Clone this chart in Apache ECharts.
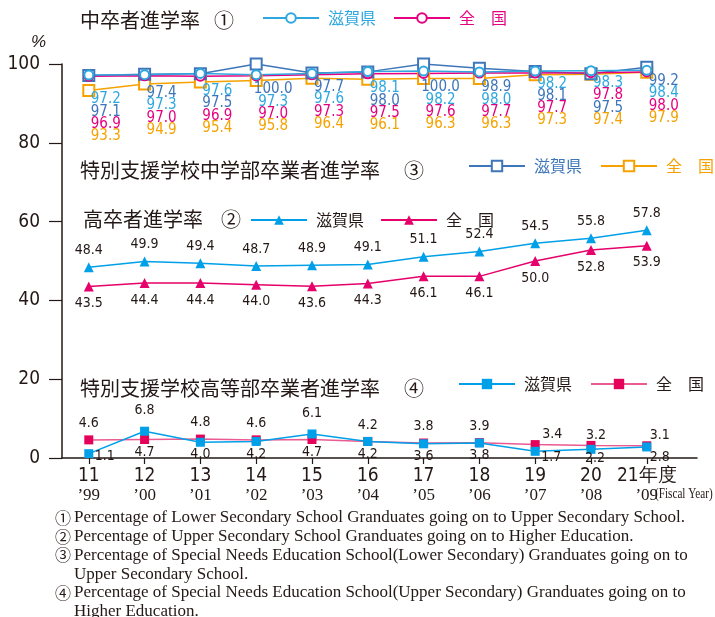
<!DOCTYPE html>
<html><head><meta charset="utf-8">
<script src="https://cdn.jsdelivr.net/npm/echarts@6/dist/echarts.min.js"></script>
<style>html,body{margin:0;padding:0;background:#fff}#c{width:715px;height:617px}</style>
</head><body><div id="c"></div>
<script>
// ---------- data ----------
const years = [11, 12, 13, 14, 15, 16, 17, 18, 19, 20, 21];
const westernYears = ['99', '00', '01', '02', '03', '04', '05', '06', '07', '08', '09'];
const yTicks = [0, 20, 40, 60, 80, 100];
// ① 中卒者進学率
const lowerSecShiga    = [97.2, 97.3, 97.6, 97.3, 97.6, 98.1, 98.2, 98.0, 98.2, 98.3, 98.4];
const lowerSecNational = [96.9, 97.0, 96.9, 97.0, 97.3, 97.5, 97.6, 97.7, 97.7, 97.8, 98.0];
// ③ 特別支援学校中学部卒業者進学率
const specLowerShiga    = [97.1, 97.4, 97.5, 100.0, 97.7, 98.0, 100.0, 98.9, 98.1, 97.5, 99.2];
const specLowerNational = [93.3, 94.9, 95.4, 95.8, 96.4, 96.1, 96.3, 96.3, 97.3, 97.4, 97.9];
// ② 高卒者進学率
const upperSecShiga    = [48.4, 49.9, 49.4, 48.7, 48.9, 49.1, 51.1, 52.4, 54.5, 55.8, 57.8];
const upperSecNational = [43.5, 44.4, 44.4, 44.0, 43.6, 44.3, 46.1, 46.1, 50.0, 52.8, 53.9];
// ④ 特別支援学校高等部卒業者進学率
const specUpperShiga    = [1.1, 6.8, 4.0, 4.2, 6.1, 4.2, 3.6, 3.8, 1.7, 2.2, 2.8];
const specUpperNational = [4.6, 4.7, 4.8, 4.6, 4.7, 4.2, 3.8, 3.9, 3.4, 3.2, 3.1];

// ---------- styling ----------
const NARROW = "'Liberation Sans Narrow','DejaVu Sans Condensed','Liberation Sans',sans-serif";
const CJK = "'Noto Sans CJK JP','Noto Sans',sans-serif";
const SERIF = "'Liberation Serif','DejaVu Serif',serif";
const INK = '#231815';
const C = {
  lbShiga: '#2ea7e0', lbNat: '#e4007f',
  dbShiga: '#3e76b9', orNat: '#f5a200',
  cyan: '#00a0e9', crimson: '#e5006a', red: '#e5005a', redLine: '#ea5b91'
};
// per-point label nudges for ④ (layout only)
const shigaUpperNudge = [[16,-14],[0,-4],[0,-4],[0,-4],[0,-4],[0,-4],[0,-4],[0,-4],[16,-10],[4,-7],[13,-6]];
const natUpperNudge   = [[0,0],[0,-4],[0,0],[0,0],[0,-4],[0,0],[0,0],[0,0],[17,6],[5,6],[13,6]];

const pairs = arr => years.map((y, i) => [y, arr[i]]);

const chart = echarts.init(document.getElementById('c'), null, {renderer: 'canvas'});

function stackSeries(id, name, arr, color, symbol, size) {
  return {
    id, name, type: 'line', data: pairs(arr), symbol, symbolSize: size,
    lineStyle: {color, width: 1.5}, itemStyle: {color, borderWidth: 1.5},
    label: {show: true, position: 'inside', color, fontFamily: NARROW, fontSize: 15,
      formatter: p => p.value[1].toFixed(1)},
    z: 3
  };
}
function plainSeries(id, name, arr, color, lineColor, symbol, size, labelPos) {
  return {
    id, name, type: 'line', symbol, symbolSize: size,
    data: pairs(arr),
    lineStyle: {color: lineColor, width: 1.5}, itemStyle: {color},
    label: {show: true, position: labelPos, distance: 5, color: INK, fontFamily: NARROW, fontSize: 14,
      formatter: p => p.value[1].toFixed(1)},
    z: 3
  };
}

// ④: higher value gets label on top, lower at bottom
function upperData(arr, other, nudge, preferTop) {
  return years.map((y, i) => {
    const top = arr[i] > other[i] || (arr[i] === other[i] && preferTop);
    return {value: [y, arr[i]], label: {position: top ? 'top' : 'bottom', offset: nudge[i]}};
  });
}

const legendBase = {
  orient: 'horizontal', itemWidth: 56, padding: 0, width: 300,
  formatter: n => n.indexOf('滋賀県') >= 0 ? '滋賀県' : '全　国',
  textStyle: {fontFamily: CJK, fontSize: 16, color: INK, padding: [0, 0, 0, 4]},
  selectedMode: false
};

const option = {
  animation: false,
  backgroundColor: '#fff',
  grid: {left: 62, top: 64, width: 635, height: 394, containLabel: false},
  xAxis: {
    type: 'value', min: 10.52, max: 21.9,
    splitLine: {show: false},
    axisLine: {show: true, lineStyle: {color: INK, width: 1.5}},
    axisTick: {show: true, customValues: years, length: 6, lineStyle: {color: INK, width: 1.2}},
    axisLabel: {
      customValues: years, margin: 8, color: INK,
      formatter: v => {
        const i = years.indexOf(v);
        return '{n|' + v + (i === years.length - 1 ? '年度' : '') + '}\n{e|’' + westernYears[i] + '}';
      },
      rich: {
        n: {fontFamily: NARROW, fontSize: 19, color: INK, lineHeight: 21},
        e: {fontFamily: SERIF, fontSize: 17, color: INK, lineHeight: 18}
      }
    }
  },
  yAxis: {
    type: 'value', min: 0, max: 100, interval: 20,
    splitLine: {show: false},
    axisLine: {show: true, lineStyle: {color: INK, width: 1.5}},
    axisTick: {show: true, length: 13, lineStyle: {color: INK, width: 1.2}},
    axisLabel: {fontFamily: NARROW, fontSize: 19, color: INK, margin: 22,
      formatter: v => yTicks.indexOf(v) >= 0 ? String(v) : ''}
  },
  legend: [
    Object.assign({}, legendBase, {left: 262, top: 10, itemHeight: 12, itemGap: 17,
      data: [{name: '①滋賀県', textStyle: {color: C.lbShiga}}, {name: '①全国', textStyle: {color: C.lbNat}}]}),
    Object.assign({}, legendBase, {left: 468, top: 158, itemHeight: 13, itemGap: 18,
      data: [{name: '③滋賀県', textStyle: {color: C.dbShiga}}, {name: '③全国', textStyle: {color: C.orNat}}]}),
    Object.assign({}, legendBase, {left: 250, top: 212, itemHeight: 12, itemGap: 16,
      data: ['②滋賀県', '②全国']}),
    Object.assign({}, legendBase, {left: 458, top: 376, itemHeight: 13, itemGap: 18,
      data: ['④滋賀県', '④全国']})
  ],
  series: [
    stackSeries('s3n', '③全国', specLowerNational, C.orNat, 'emptyRect', 11),
    stackSeries('s3s', '③滋賀県', specLowerShiga, C.dbShiga, 'emptyRect', 11),
    stackSeries('s1n', '①全国', lowerSecNational, C.lbNat, 'emptyCircle', 9),
    stackSeries('s1s', '①滋賀県', lowerSecShiga, C.lbShiga, 'emptyCircle', 9),
    plainSeries('s2s', '②滋賀県', upperSecShiga, C.cyan, C.cyan, 'triangle', 10, 'top'),
    plainSeries('s2n', '②全国', upperSecNational, C.crimson, C.crimson, 'triangle', 10, 'bottom'),
    Object.assign(plainSeries('s4n', '④全国', specUpperNational, C.red, C.redLine, 'rect', 9, 'top'),
      {data: upperData(specUpperNational, specUpperShiga, natUpperNudge, true)}),
    Object.assign(plainSeries('s4s', '④滋賀県', specUpperShiga, C.cyan, C.cyan, 'rect', 9, 'bottom'),
      {data: upperData(specUpperShiga, specUpperNational, shigaUpperNudge, false), z: 4})
  ],
  graphic: []
};

// titles, unit, notes (text)
const titleStyle = {fontFamily: CJK, fontSize: 20, fill: INK, verticalAlign: 'middle'};
const titles = [
  ['中卒者進学率', '①', 80, 20, 214],
  ['特別支援学校中学部卒業者進学率', '③', 80, 170, 404],
  ['高卒者進学率', '②', 83, 219, 221],
  ['特別支援学校高等部卒業者進学率', '④', 80, 388, 404]
];
titles.forEach(t => {
  option.graphic.push({type: 'text', x: t[2], y: t[3], style: Object.assign({text: t[0]}, titleStyle)});
  option.graphic.push({type: 'text', x: t[4], y: t[3], style: Object.assign({text: t[1]}, titleStyle)});
});
option.graphic.push({type: 'text', x: 31, y: 42, style: {text: '%', fontFamily: "'Liberation Sans',sans-serif",
  fontStyle: 'italic', fontSize: 17, fill: INK, verticalAlign: 'middle'}});
option.graphic.push({type: 'text', x: 655, y: 494, scaleX: 0.8, style: {text: '(Fiscal Year)', fontFamily: SERIF,
  fontSize: 14, fill: INK, verticalAlign: 'middle'}});
const notes = [
  ['①', 'Percentage of Lower Secondary School Granduates going on to Upper Secondary School.'],
  ['②', 'Percentage of Upper Secondary School Granduates going on to Higher Education.'],
  ['③', 'Percentage of Special Needs Education School(Lower Secondary) Granduates going on to'],
  ['', 'Upper Secondary School.'],
  ['④', 'Percentage of Special Needs Education School(Upper Secondary) Granduates going on to'],
  ['', 'Higher Education.']
];
notes.forEach((n, i) => {
  const y = 518 + i * 18.7;
  if (n[0]) option.graphic.push({type: 'text', x: 55, y, style: {text: n[0], fontFamily: CJK, fontSize: 16, fill: INK, verticalAlign: 'middle'}});
  option.graphic.push({type: 'text', x: 74, y, style: {text: n[1], fontFamily: SERIF, fontSize: 17, fill: INK, verticalAlign: 'middle'}});
});

chart.setOption(option);

// stack ①/③ labels under the points, ordered by value
(function stackLabels() {
  const groups = [
    {id: 's1s', v: lowerSecShiga}, {id: 's1n', v: lowerSecNational},
    {id: 's3s', v: specLowerShiga}, {id: 's3n', v: specLowerNational}
  ];
  const out = groups.map(() => []);
  years.forEach((yr, i) => {
    const items = groups.map((g, k) => ({k, val: g.v[i],
      py: chart.convertToPixel({gridIndex: 0}, [yr, g.v[i]])[1]}));
    const lowest = Math.max.apply(null, items.map(t => t.py));
    items.slice().sort((a, b) => b.val - a.val).forEach((t, rank) => {
      const target = lowest + 9 + rank * 12.3;
      out[t.k][i] = {value: [yr, t.val], label: {offset: [17, target - t.py]}};
    });
  });
  chart.setOption({series: groups.map((g, k) => ({id: g.id, data: out[k]}))});
})();
</script>
</body></html>
